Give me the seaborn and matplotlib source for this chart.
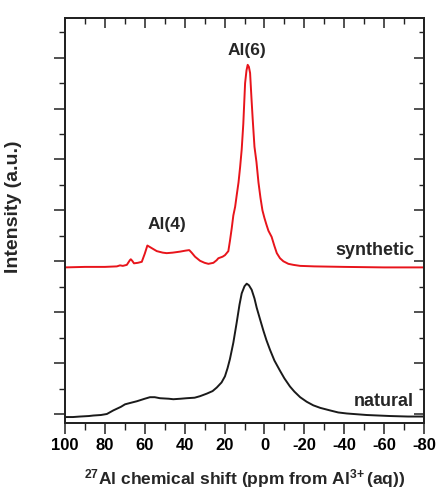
import numpy as np
import pandas as pd
import matplotlib
matplotlib.use("Agg")
import matplotlib.pyplot as plt
import matplotlib.lines as mlines
import seaborn as sns
from matplotlib.ticker import MultipleLocator, NullFormatter

# ---- data ----
synthetic_ppm = [100, 90, 80, 74, 72.4, 71, 69, 67.5, 67, 66.3, 65.4, 63.5, 61.5, 60, 58.7, 57,
                 54, 51, 49, 46, 42.3, 39.5, 37.7, 36.5, 34.8, 32.3, 30, 28.1, 25.6, 24, 23.1,
                 21, 19.8, 18.1, 17.3, 16.4, 15.6, 14.7, 13.9, 13, 12.2, 11.4, 10.6, 9.7, 9.0,
                 8.4, 7.8, 7.2, 6.5, 5.9, 5.0, 4.0, 3.0, 2.0, 1.0, 0.0, -1.0, -2.0, -3.6, -5.0,
                 -6.2, -7.8, -9.5, -12, -14.5, -17.9, -25, -40, -60, -80]
synthetic_int = [2.88, 2.89, 2.89, 2.90, 2.92, 2.91, 2.93, 3.02, 3.04, 3.01, 2.96, 2.97, 2.99,
                 3.15, 3.31, 3.27, 3.20, 3.17, 3.16, 3.17, 3.19, 3.21, 3.22, 3.17, 3.09, 3.01,
                 2.97, 2.95, 2.97, 3.02, 3.06, 3.09, 3.12, 3.20, 3.40, 3.65, 3.90, 4.07, 4.30,
                 4.55, 4.85, 5.20, 5.70, 6.50, 6.75, 6.86, 6.82, 6.70, 6.20, 5.80, 5.25, 4.95,
                 4.55, 4.25, 4.00, 3.85, 3.72, 3.60, 3.48, 3.30, 3.16, 3.06, 3.00, 2.95, 2.93,
                 2.91, 2.90, 2.89, 2.88, 2.88]

natural_ppm = [100, 96, 92.5, 88, 85.8, 82, 79, 75.8, 72, 69.9, 67, 64, 60, 57.4, 55, 52.4,
               48, 45.7, 42, 39, 35, 32.3, 28.9, 26, 23.9, 21.5, 19.8, 18.5, 17.3, 15.6, 13.9,
               12.5, 11.4, 10.0, 8.9, 7.8, 6.4, 5.0, 3.9, 2.2, 0.55, -1.0, -2.8, -5.0, -7.8,
               -10.0, -12.8, -15.0, -17.9, -21.2, -24.5, -28, -32.9, -37, -41.3, -51.3, -63,
               -72, -80]
natural_int = [-0.06, -0.06, -0.05, -0.04, -0.03, -0.02, 0.0, 0.07, 0.14, 0.19, 0.22, 0.25,
               0.30, 0.33, 0.33, 0.31, 0.30, 0.29, 0.30, 0.31, 0.32, 0.35, 0.40, 0.45, 0.52,
               0.62, 0.74, 0.90, 1.08, 1.40, 1.80, 2.15, 2.37, 2.51, 2.56, 2.53, 2.44, 2.27,
               2.09, 1.86, 1.64, 1.45, 1.26, 1.05, 0.85, 0.70, 0.54, 0.44, 0.33, 0.24, 0.17,
               0.12, 0.07, 0.03, 0.01, -0.02, -0.04, -0.05, -0.05]

series_names = ["synthetic", "natural"]
series_colors = ["#e8141b", "#1a1a1a"]

x_ticks = [100, 80, 60, 40, 20, 0, -20, -40, -60, -80]
x_tick_labels = ["100", "80", "60", "40", "20", "0", "-20", "-40", "-60", "-80"]
y_ticks = [0, 1, 2, 3, 4, 5, 6, 7]

df = pd.concat([
    pd.DataFrame({"ppm": synthetic_ppm, "intensity": synthetic_int, "sample": "synthetic"}),
    pd.DataFrame({"ppm": natural_ppm, "intensity": natural_int, "sample": "natural"}),
], ignore_index=True)

# ---- style ----
TC = "#222222"
sns.set_style("white")
plt.rcParams["font.family"] = ["Liberation Sans", "DejaVu Sans"]
plt.rcParams["mathtext.fontset"] = "custom"
plt.rcParams["mathtext.rm"] = "Liberation Sans:bold"
plt.rcParams["mathtext.default"] = "rm"
plt.rcParams["axes.edgecolor"] = TC
plt.rcParams["axes.linewidth"] = 1.2

XLIM = (100, -80)
YLIM = (-0.177, 7.78)

fig = plt.figure(figsize=(4.37, 4.92), dpi=100)
ax = fig.add_axes([65 / 437, 1 - 423 / 492, (424 - 65) / 437, (423 - 18) / 492])

sns.lineplot(data=df, x="ppm", y="intensity", hue="sample", hue_order=series_names,
             palette=dict(zip(series_names, series_colors)), estimator=None, sort=False,
             legend=False, linewidth=1.4, ax=ax)

ax.set_xlim(*XLIM)
ax.set_ylim(*YLIM)

ax.set_xticks(x_ticks)
ax.set_xticklabels(x_tick_labels, fontsize=12, fontweight="bold")
ax.xaxis.set_minor_locator(MultipleLocator(10))
ax.set_yticks(y_ticks)
ax.yaxis.set_minor_locator(MultipleLocator(0.5))
ax.yaxis.set_major_formatter(NullFormatter())
ax.tick_params(axis="x", which="major", direction="out", length=8, width=1.1, pad=3,
               bottom=True, color=TC, labelcolor="black")
ax.tick_params(axis="x", which="minor", direction="out", length=5, width=1.0, bottom=True,
               color=TC)
ax.tick_params(axis="y", which="major", direction="out", length=8, width=1.1, left=True,
               color=TC)
ax.tick_params(axis="y", which="minor", direction="out", length=4.5, width=1.0, left=True,
               color=TC)

# mirror ticks pointing inward on the top edge (twin x axis)
axt = ax.twiny()
axt.set_xlim(*XLIM)
axt.set_xticks(x_ticks)
axt.xaxis.set_minor_locator(MultipleLocator(10))
axt.xaxis.set_major_formatter(NullFormatter())
axt.tick_params(axis="x", which="both", top=True, bottom=False, direction="in", color=TC)
axt.tick_params(axis="x", which="major", length=7, width=1.1)
axt.tick_params(axis="x", which="minor", length=4, width=1.0)

# mirror ticks pointing inward on the right edge (twin y axis)
axr = ax.twinx()
axr.set_ylim(*YLIM)
axr.set_yticks(y_ticks)
axr.yaxis.set_minor_locator(MultipleLocator(0.5))
axr.yaxis.set_major_formatter(NullFormatter())
axr.tick_params(axis="y", which="both", right=True, left=False, direction="in", color=TC)
axr.tick_params(axis="y", which="major", length=7, width=1.1)
axr.tick_params(axis="y", which="minor", length=3.5, width=1.0)

ax.set_xlabel(r"$^{27}$Al chemical shift (ppm from Al$^{3\!+}$(aq))", fontsize=12.5,
              fontweight="bold", labelpad=10)
ax.set_ylabel("Intensity (a.u.)", fontsize=14, fontweight="bold")
ax.yaxis.set_label_coords(-0.12, 0.533)

ax.text(8.7, 7.15, "Al(6)", ha="center", va="center", fontsize=12.5, fontweight="bold")
ax.text(48.8, 3.73, "Al(4)", ha="center", va="center", fontsize=12.5, fontweight="bold")
ax.text(-75, 3.22, "synthetic", ha="right", va="center", fontsize=13, fontweight="bold")
ax.text(-75, 0.25, "natural", ha="right", va="center", fontsize=13, fontweight="bold")

fig.savefig("out.png", dpi=100, facecolor="white")
